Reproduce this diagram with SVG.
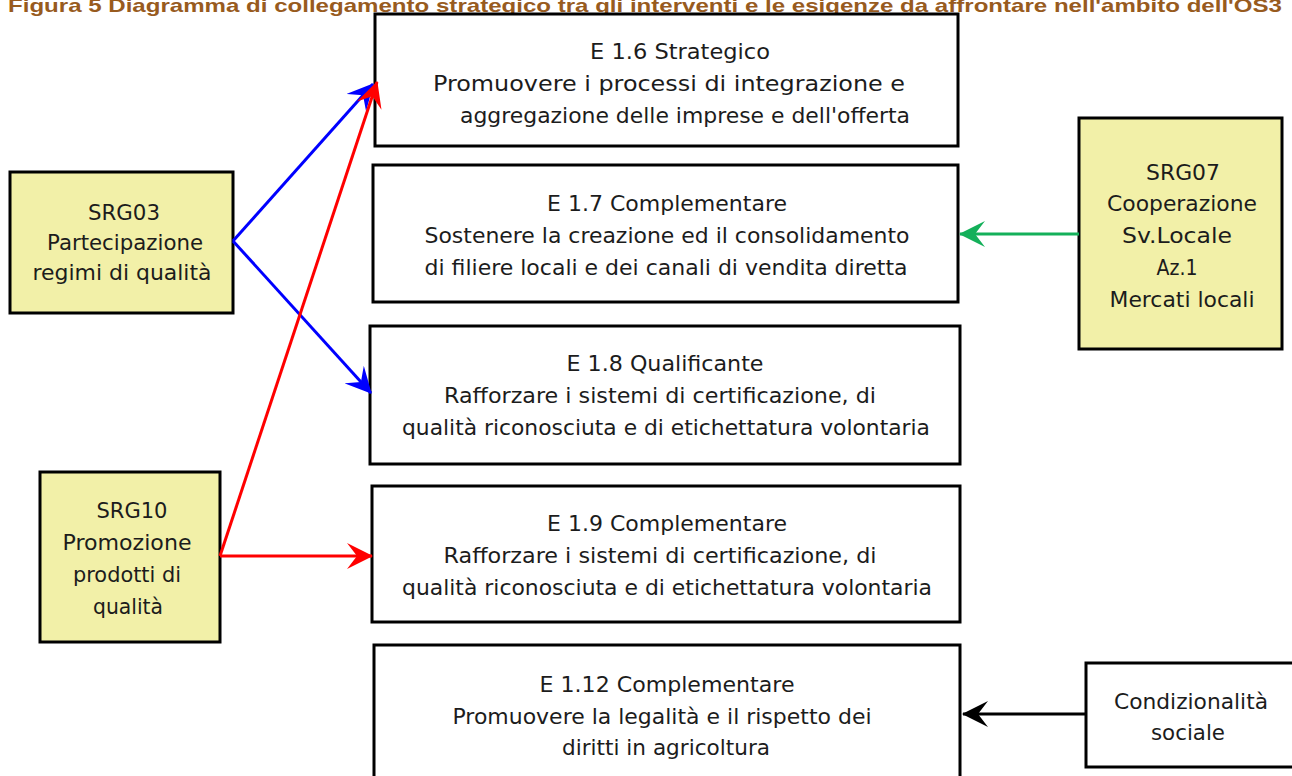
<svg xmlns="http://www.w3.org/2000/svg" width="1292" height="776" viewBox="0 0 1292 776">
<style>
.box{fill:#ffffff;stroke:#000;stroke-width:3}
.ybox{fill:#F2F0A8;stroke:#000;stroke-width:3}
.t{font-family:"DejaVu Sans","Liberation Sans",sans-serif;font-size:21px;fill:#1c1c1c;text-anchor:middle}
.title{font-family:"Liberation Sans",Arial,sans-serif;font-weight:bold;font-size:19px;fill:#985B1E}
.c{fill:none;stroke-width:3}
</style>
<defs>
<marker id="ab" viewBox="0 0 26 26" refX="25" refY="13" markerWidth="26" markerHeight="26" markerUnits="userSpaceOnUse" orient="auto"><path d="M26,13 L0,0 L10,13 L0,26 z" fill="#0000FF"/></marker>
<marker id="ar" viewBox="0 0 26 26" refX="25" refY="13" markerWidth="26" markerHeight="26" markerUnits="userSpaceOnUse" orient="auto"><path d="M26,13 L0,0 L10,13 L0,26 z" fill="#FF0000"/></marker>
<marker id="ag" viewBox="0 0 26 26" refX="25" refY="13" markerWidth="26" markerHeight="26" markerUnits="userSpaceOnUse" orient="auto"><path d="M26,13 L0,0 L10,13 L0,26 z" fill="#14B05A"/></marker>
<marker id="ak" viewBox="0 0 26 26" refX="25" refY="13" markerWidth="26" markerHeight="26" markerUnits="userSpaceOnUse" orient="auto"><path d="M26,13 L0,0 L10,13 L0,26 z" fill="#000"/></marker>
</defs>
<text class="title" x="8" y="12" textLength="1274" lengthAdjust="spacingAndGlyphs">Figura 5 Diagramma di collegamento strategico tra gli interventi e le esigenze da affrontare nell'ambito dell'OS3</text>

<g id="e16">
<rect class="box" x="375" y="14" width="583" height="132"/>
<text class="t" x="680" y="59" textLength="180" lengthAdjust="spacingAndGlyphs">E 1.6 Strategico</text>
<text class="t" x="669" y="91" textLength="472" lengthAdjust="spacingAndGlyphs">Promuovere i processi di integrazione e</text>
<text class="t" x="685" y="123" textLength="450" lengthAdjust="spacingAndGlyphs">aggregazione delle imprese e dell'offerta</text>
</g>
<g id="e17">
<rect class="box" x="373" y="165" width="585" height="137"/>
<text class="t" x="667" y="211" textLength="240" lengthAdjust="spacingAndGlyphs">E 1.7 Complementare</text>
<text class="t" x="667" y="243" textLength="485" lengthAdjust="spacingAndGlyphs">Sostenere la creazione ed il consolidamento</text>
<text class="t" x="666" y="275" textLength="483" lengthAdjust="spacingAndGlyphs">di filiere locali e dei canali di vendita diretta</text>
</g>
<g id="e18">
<rect class="box" x="370" y="326" width="590" height="138"/>
<text class="t" x="665" y="371" textLength="197" lengthAdjust="spacingAndGlyphs">E 1.8 Qualificante</text>
<text class="t" x="660" y="403" textLength="432" lengthAdjust="spacingAndGlyphs">Rafforzare i sistemi di certificazione, di</text>
<text class="t" x="666" y="435" textLength="528" lengthAdjust="spacingAndGlyphs">qualità riconosciuta e di etichettatura volontaria</text>
</g>
<g id="e19">
<rect class="box" x="372" y="486" width="588" height="136"/>
<text class="t" x="667" y="531" textLength="240" lengthAdjust="spacingAndGlyphs">E 1.9 Complementare</text>
<text class="t" x="660" y="563" textLength="433" lengthAdjust="spacingAndGlyphs">Rafforzare i sistemi di certificazione, di</text>
<text class="t" x="667" y="595" textLength="530" lengthAdjust="spacingAndGlyphs">qualità riconosciuta e di etichettatura volontaria</text>
</g>
<g id="e112">
<rect class="box" x="374" y="645" width="586" height="140"/>
<text class="t" x="667" y="692" textLength="255" lengthAdjust="spacingAndGlyphs">E 1.12 Complementare</text>
<text class="t" x="662" y="724" textLength="419" lengthAdjust="spacingAndGlyphs">Promuovere la legalità e il rispetto dei</text>
<text class="t" x="666" y="755" textLength="208" lengthAdjust="spacingAndGlyphs">diritti in agricoltura</text>
</g>
<g id="srg03">
<rect class="ybox" x="10" y="172" width="223" height="141"/>
<text class="t" x="124" y="220" textLength="72" lengthAdjust="spacingAndGlyphs">SRG03</text>
<text class="t" x="125" y="250" textLength="156" lengthAdjust="spacingAndGlyphs">Partecipazione</text>
<text class="t" x="122" y="280" textLength="179" lengthAdjust="spacingAndGlyphs">regimi di qualità</text>
</g>
<g id="srg10">
<rect class="ybox" x="40" y="472" width="180" height="170"/>
<text class="t" x="132" y="518" textLength="71" lengthAdjust="spacingAndGlyphs">SRG10</text>
<text class="t" x="127" y="550" textLength="129" lengthAdjust="spacingAndGlyphs">Promozione</text>
<text class="t" x="127" y="582" textLength="108" lengthAdjust="spacingAndGlyphs">prodotti di</text>
<text class="t" x="128" y="614" textLength="70" lengthAdjust="spacingAndGlyphs">qualità</text>
</g>
<g id="srg07">
<rect class="ybox" x="1079" y="118" width="203" height="231"/>
<text class="t" x="1183" y="180" textLength="74" lengthAdjust="spacingAndGlyphs">SRG07</text>
<text class="t" x="1182" y="211" textLength="150" lengthAdjust="spacingAndGlyphs">Cooperazione</text>
<text class="t" x="1177" y="243" textLength="110" lengthAdjust="spacingAndGlyphs">Sv.Locale</text>
<text class="t" x="1177" y="275" textLength="41" lengthAdjust="spacingAndGlyphs">Az.1</text>
<text class="t" x="1182" y="307" textLength="145" lengthAdjust="spacingAndGlyphs">Mercati locali</text>
</g>
<g id="cond">
<rect class="box" x="1086" y="663" width="212" height="104"/>
<text class="t" x="1191" y="709" textLength="154" lengthAdjust="spacingAndGlyphs">Condizionalità</text>
<text class="t" x="1188" y="740" textLength="74" lengthAdjust="spacingAndGlyphs">sociale</text>
</g>
<g id="connectors">
<line class="c" x1="233" y1="241" x2="373" y2="84" stroke="#0000FF" marker-end="url(#ab)"/>
<line class="c" x1="233" y1="241" x2="371" y2="393" stroke="#0000FF" marker-end="url(#ab)"/>
<line class="c" x1="220" y1="556" x2="377" y2="82" stroke="#FF0000" marker-end="url(#ar)"/>
<line class="c" x1="220" y1="556" x2="372" y2="556" stroke="#FF0000" marker-end="url(#ar)"/>
<line class="c" x1="1079" y1="234" x2="960" y2="234" stroke="#14B05A" marker-end="url(#ag)"/>
<line class="c" x1="1086" y1="714" x2="963" y2="714" stroke="#000" marker-end="url(#ak)"/>
</g>
</svg>
